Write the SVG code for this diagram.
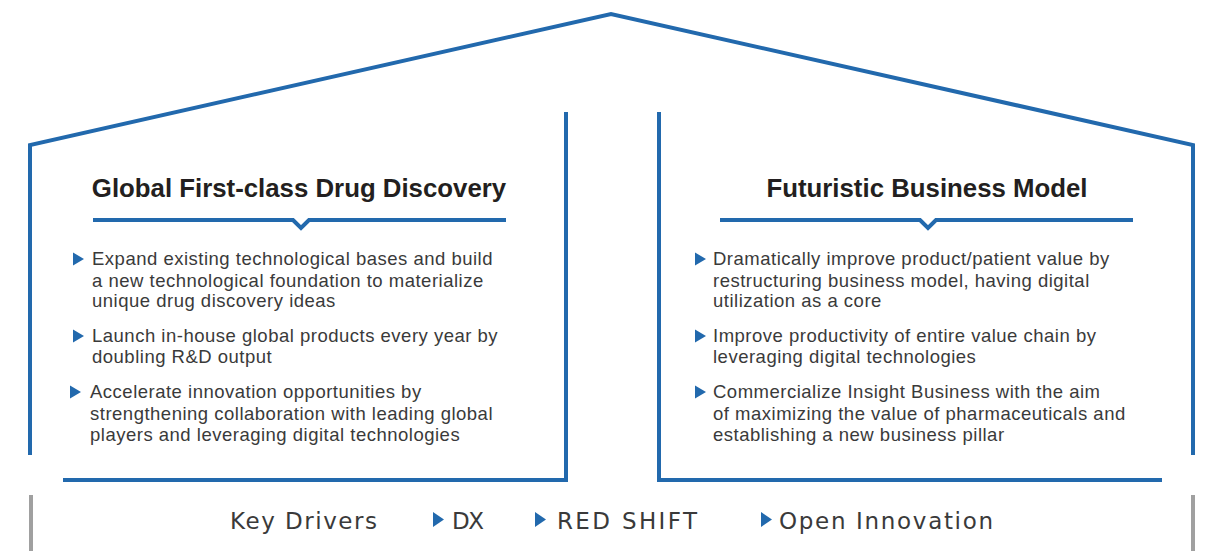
<svg xmlns="http://www.w3.org/2000/svg" width="1211" height="551" viewBox="0 0 1211 551">
<style>
.frame{fill:none;stroke:#2269ad;stroke-width:4;stroke-linejoin:miter}
.title{font-family:"Liberation Sans",Arial,sans-serif;font-weight:bold;font-size:25.8px;fill:#231f20;text-anchor:middle}
.body{font-family:"Liberation Sans",Arial,sans-serif;font-size:18.5px;letter-spacing:0.5px;fill:#3a3a3a}
.key{font-family:"DejaVu Sans","Liberation Sans",sans-serif;font-size:23px;fill:#3a3a3a}
.tri{fill:#2269ad}
.gray{stroke:#a0a0a0;stroke-width:4}
</style>
<defs>
<path id="tri" d="M0,0 L11,6.5 L0,13 Z" class="tri"/>
<path id="ktri" d="M0,0 L11,7.5 L0,15 Z" class="tri"/>
</defs>
<g id="connectors">
<path id="roof" class="frame" d="M30,455 L30,145 L611,14 L1193,145 L1193,455"/>
<line class="gray" x1="31" y1="495" x2="31" y2="551"/>
<line class="gray" x1="1193" y1="495" x2="1193" y2="551"/>
</g>
<g id="left-pillar">
<path class="frame" d="M63,480 L566,480 L566,112"/>
<text class="title" x="299" y="197">Global First-class Drug Discovery</text>
<path class="frame" d="M93,220 L293,220 L301,228 L309,220 L506,220"/>
<use href="#tri" x="73" y="252.5"/>
<text class="body" x="92" y="265">Expand existing technological bases and build</text>
<text class="body" x="92" y="287">a new technological foundation to materialize</text>
<text class="body" x="92" y="307">unique drug discovery ideas</text>
<use href="#tri" x="73" y="329.5"/>
<text class="body" x="92" y="342">Launch in-house global products every year by</text>
<text class="body" x="92" y="363">doubling R&amp;D output</text>
<use href="#tri" x="70" y="385.5"/>
<text class="body" x="90" y="398">Accelerate innovation opportunities by</text>
<text class="body" x="90" y="420">strengthening collaboration with leading global</text>
<text class="body" x="90" y="441">players and leveraging digital technologies</text>
</g>
<g id="right-pillar">
<path class="frame" d="M659,112 L659,480 L1162,480"/>
<text class="title" x="927" y="197">Futuristic Business Model</text>
<path class="frame" d="M720,220 L920,220 L928,228 L936,220 L1133,220"/>
<use href="#tri" x="695" y="252.5"/>
<text class="body" x="713" y="265">Dramatically improve product/patient value by</text>
<text class="body" x="713" y="287">restructuring business model, having digital</text>
<text class="body" x="713" y="307">utilization as a core</text>
<use href="#tri" x="695" y="329.5"/>
<text class="body" x="713" y="342">Improve productivity of entire value chain by</text>
<text class="body" x="713" y="363">leveraging digital technologies</text>
<use href="#tri" x="695" y="385.5"/>
<text class="body" x="713" y="398">Commercialize Insight Business with the aim</text>
<text class="body" x="713" y="420">of maximizing the value of pharmaceuticals and</text>
<text class="body" x="713" y="441">establishing a new business pillar</text>
</g>
<g id="key-drivers">
<text class="key" x="230" y="529" textLength="147">Key Drivers</text>
<use href="#ktri" x="433" y="512"/>
<text class="key" x="452" y="529" textLength="32">DX</text>
<use href="#ktri" x="535" y="512"/>
<text class="key" x="557" y="529" textLength="140">RED SHIFT</text>
<use href="#ktri" x="761" y="512"/>
<text class="key" x="779" y="529" textLength="214">Open Innovation</text>
</g>
</svg>
